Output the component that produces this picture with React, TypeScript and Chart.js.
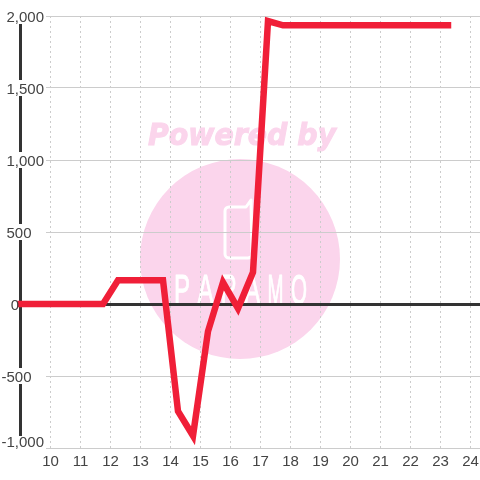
import React, { useEffect, useRef } from "react";
import { Chart, registerables } from "chart.js";

Chart.register(...registerables);

const hours = [9, 9.25, 9.75, 10.25, 10.75, 11.25, 11.75, 12.25, 12.75, 13.25, 13.75, 14.25, 14.75, 15.25, 15.75, 16.25, 16.75, 17.25, 17.75, 18.25, 18.75, 19.25, 19.75, 20.25, 20.75, 21.25, 21.75, 22.25, 22.75, 23.25];
const values = [0, 0, 0, 0, 0, 0, 0, 165, 165, 165, 165, -745, -915, -190, 150, -30, 220, 1965, 1935, 1935, 1935, 1935, 1935, 1935, 1935, 1935, 1935, 1935, 1935, 1935];
const xTickValues = [10, 11, 12, 13, 14, 15, 16, 17, 18, 19, 20, 21, 22, 23, 24];
const logoLetters = ["P", "A", "R", "A", "M", "O"];
const seriesColor = "#f01f38";
const labelColor = "#444444";
const gridColor = "#cccccc";
const axisColor = "#333333";
const pink = "#fbd5ec";

const watermark = {
  id: "watermark",
  beforeDraw(chart: any) {
    const c = chart.ctx;
    c.save();
    c.fillStyle = pink;
    c.beginPath();
    c.arc(240, 259, 100, 0, Math.PI * 2);
    c.fill();
    c.font = "italic bold 30px 'DejaVu Sans'";
    c.textAlign = "left";
    c.textBaseline = "alphabetic";
    c.fillText("Powered by", 148, 145, 188);
    c.strokeStyle = pink;
    c.lineWidth = 1;
    c.strokeText("Powered by", 148, 145, 188);
    c.strokeStyle = "#ffffff";
    c.lineWidth = 3;
    c.lineJoin = "round";
    c.beginPath();
    c.moveTo(229, 207);
    c.lineTo(246, 207);
    c.lineTo(251, 200);
    c.lineTo(252, 254);
    c.arcTo(252, 258, 248, 258, 4);
    c.lineTo(229, 258);
    c.arcTo(225, 258, 225, 254, 4);
    c.lineTo(225, 211);
    c.arcTo(225, 207, 229, 207, 4);
    c.stroke();
    c.fillStyle = "#ffffff";
    c.lineWidth = 1;
    c.font = "43px 'Liberation Sans'";
    logoLetters.forEach((l, i) => {
      c.fillText(l, 174 + i * 23.4, 304, 16);
      c.strokeText(l, 174 + i * 23.4, 304, 16);
    });
    c.restore();
  },
};

const axisLines = {
  id: "axisLines",
  beforeDatasetsDraw(chart: any) {
    const c = chart.ctx;
    const y = chart.scales.y;
    const zero = Math.round(y.getPixelForValue(0)) + 0.5;
    c.save();
    c.strokeStyle = axisColor;
    c.lineWidth = 3;
    c.beginPath();
    c.moveTo(20.5, y.top);
    c.lineTo(20.5, y.bottom - 12);
    c.moveTo(19, zero);
    c.lineTo(chart.chartArea.right, zero);
    c.stroke();
    c.restore();
  },
};

const pad = (s: string, n: number) => s + "\u00a0".repeat(n);

export default function App() {
  const ref = useRef<HTMLCanvasElement>(null);
  useEffect(() => {
    document.body.style.background = "#ffffff";
    const chart = new Chart(ref.current as HTMLCanvasElement, {
      type: "line",
      data: {
        datasets: [
          {
            data: hours.map((h, i) => ({ x: h, y: values[i] })),
            borderColor: seriesColor,
            borderWidth: 6.5,
            borderCapStyle: "square",
            borderJoinStyle: "miter",
            pointRadius: 0,
            tension: 0,
            fill: false,
            clip: false,
          },
        ],
      },
      options: {
        animation: false,
        responsive: false,
        layout: { padding: { top: 16, right: 0, left: 0, bottom: 0 } },
        plugins: { legend: { display: false }, tooltip: { enabled: false } },
        scales: {
          x: {
            type: "linear",
            bounds: "data",
            afterDataLimits(s: any) {
              s.min = 9.85;
              s.max = 24.317;
            },
            afterBuildTicks(s: any) {
              s.ticks = xTickValues.map((value) => ({ value }));
            },
            afterFit(s: any) {
              s.height = 32;
              s.paddingLeft = 0;
              s.paddingRight = 0;
            },
            border: { display: false, dash: [2, 3] },
            grid: { color: gridColor, lineWidth: 1, tickLength: 0, drawTicks: false },
            ticks: {
              stepSize: 1,
              autoSkip: false,
              maxRotation: 0,
              color: labelColor,
              padding: 5,
              font: { family: "'Liberation Sans'", size: 15 },
              callback: (v: any) => String(v),
            },
          },
          y: {
            type: "linear",
            min: -1000,
            max: 2000,
            afterFit(s: any) {
              s.width = 46;
              s.paddingTop = 0;
              s.paddingBottom = 0;
            },
            border: { display: false },
            grid: { color: gridColor, lineWidth: 1, tickLength: 0, drawTicks: false },
            ticks: {
              stepSize: 250,
              autoSkip: false,
              color: labelColor,
              padding: 2,
              z: 1,
              showLabelBackdrop: (ctx: any) => ctx.tick && ctx.tick.value !== 0 && ctx.tick.value !== -1000,
              backdropColor: "#ffffff",
              backdropPadding: { top: 3.5, bottom: 6.5, left: 0, right: 0 },
              font: (ctx: any) => ({
                family: "'Liberation Sans'",
                size: 15,
                lineHeight: ctx.tick && ctx.tick.value === -1000 ? "10px" : "3px",
              }),
              callback: (v: any) => {
                if (v % 500 !== 0) return null;
                const s = Number(v).toLocaleString("en-US");
                if (v === -1000) return [s, ""];
                if (v === 0) return ["", pad(s, 6)];
                if (Math.abs(v) === 500) return ["", pad(s, 3)];
                return ["", s];
              },
            },
          },
        },
      },
      plugins: [watermark, axisLines],
    } as any);
    return () => chart.destroy();
  }, []);
  return (
    <div style={{ position: "absolute", left: 0, top: 0, width: 480, height: 480 }}>
      <canvas ref={ref} width={480} height={480} style={{ display: "block" }} />
    </div>
  );
}
